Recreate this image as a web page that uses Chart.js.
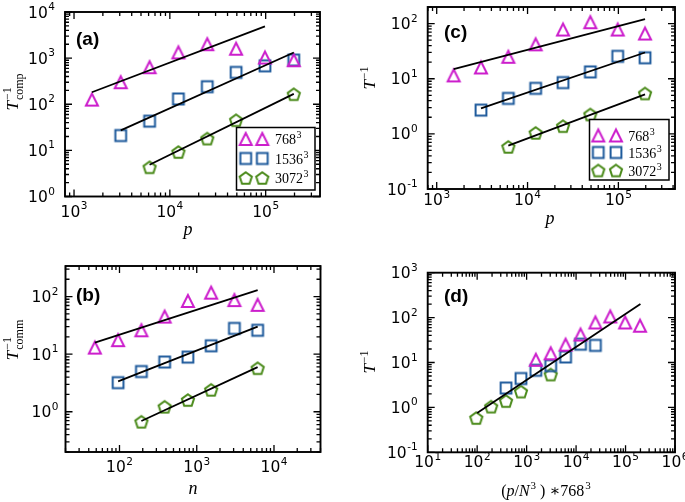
<!DOCTYPE html>
<html lang="en">
<head>
<meta charset="utf-8">
<title>Strong scaling</title>
<script src="https://cdn.jsdelivr.net/npm/chart.js@4.4.0/dist/chart.umd.min.js"></script>
<style>
  body { margin: 0; background: #fff; }
  #wrap { position: relative; width: 685px; height: 502px; overflow: hidden; }
  #wrap canvas { position: absolute; left: 0; top: 0; }
</style>
</head>
<body>
<div id="wrap">
  <canvas id="panelA" width="685" height="502"></canvas>
  <canvas id="panelB" width="685" height="502"></canvas>
  <canvas id="panelC" width="685" height="502"></canvas>
  <canvas id="panelD" width="685" height="502"></canvas>
</div>
<script>
// grids
const grids = [768, 1536, 3072];
const gridLabels = ['768', '1536', '3072'];

// processor counts p per grid
const procs768 = [1536, 3072, 6144, 12288, 24576, 49152, 98304, 196608];
const procs1536 = [3072, 6144, 12288, 24576, 49152, 98304, 196608];
const procs3072 = [6144, 12288, 24576, 49152, 196608];

// n per grid (panel b)
const n768 = [48, 96, 192, 384, 768, 1536, 3072, 6144];
const n1536 = [96, 192, 384, 768, 1536, 3072, 6144];
const n3072 = [192, 384, 768, 1536, 6144];

// (a) inverse computation time
const comp768 = [126, 300, 635, 1330, 2000, 1600, 1030, 900];
const comp1536 = [21, 43, 130, 240, 490, 680, 910];
const comp3072 = [4.3, 9.2, 18, 45, 165];

// (b) inverse communication time
const comm768 = [13, 17.5, 26, 45, 84, 117, 87, 72];
const comm1536 = [3.2, 5.0, 7.3, 8.9, 14, 28, 26];
const comm3072 = [0.67, 1.22, 1.6, 2.4, 5.7];

// (c) inverse total time (also used in d)
const total768 = [11.5, 16, 25, 42, 78, 106, 78, 66];
const total1536 = [2.7, 4.4, 6.7, 8.5, 13.3, 25.5, 24];
const total3072 = [0.58, 1.04, 1.38, 2.25, 5.4];

// fitted power laws, end points
const fitA768 = { x: [1536, 98304], y: [182, 4860] };
const fitA1536 = { x: [3072, 196608], y: [27.2, 1327] };
const fitA3072 = { x: [6144, 196608], y: [4.87, 168] };
const fitB768 = { x: [48, 6144], y: [15.9, 130] };
const fitB1536 = { x: [96, 6144], y: [3.38, 30] };
const fitB3072 = { x: [192, 6144], y: [0.69, 5.97] };
const fitC768 = { x: [1536, 196608], y: [14.9, 120] };
const fitC1536 = { x: [3072, 196608], y: [2.9, 29.9] };
const fitC3072 = { x: [6144, 196608], y: [0.61, 5.2] };
const fitD = { x: [100, 200000], y: [0.75, 200] };

const colors = ['#cc1ecc', '#1f5b9c', '#4b8b1b'];

function makeMarker(shape, color) {
    const c = document.createElement('canvas');
    c.width = 18; c.height = 18;
    const g = c.getContext('2d');
    g.strokeStyle = color;
    g.lineWidth = 2;
    g.beginPath();
    if (shape === 'tri') {
        g.moveTo(9, 3); g.lineTo(3, 15); g.lineTo(15, 15);
    } else if (shape === 'sq') {
        g.rect(3.6, 3.6, 10.8, 10.8);
    } else {
        for (let k = 0; k < 5; k++) {
            const a = -Math.PI / 2 + k * 2 * Math.PI / 5;
            const px = 9 + 6.4 * Math.cos(a), py = 9.6 + 6.4 * Math.sin(a);
            if (k === 0) g.moveTo(px, py); else g.lineTo(px, py);
        }
    }
    g.closePath();
    g.stroke();
    return c;
}
const markers = [makeMarker('tri', colors[0]), makeMarker('sq', colors[1]), makeMarker('pent', colors[2])];

function pts(xs, ys) { return xs.map((x, i) => ({ x: x, y: ys[i] })); }
function markerSet(xs, ys, k) {
    return { data: pts(xs, ys), showLine: false, pointStyle: markers[k], pointRadius: 6 };
}
function fitSet(f) {
    return { data: pts(f.x, f.y), showLine: true, borderColor: '#000', borderWidth: 1.8, pointRadius: 0 };
}
// rescaled abscissa for panel d: (p/N^3)*768^3
function rescale(ps, N) { return ps.map(p => p * Math.pow(768 / N, 3)); }

const SERIF = '"Liberation Serif", "DejaVu Serif", serif';
const SANS = '"DejaVu Sans", sans-serif';

// math-ish text runs
function runWidth(ctx, segs, size) {
    let w = 0;
    segs.forEach(s => {
        if (s.t !== undefined) {
            ctx.font = (s.f === 'i' ? 'italic ' : '') + size + 'px ' + SERIF;
            w += ctx.measureText(s.t).width;
        } else {
            ctx.font = Math.round(size * 0.7) + 'px ' + SERIF;
            w += Math.max(s.sup ? ctx.measureText(s.sup).width : 0, s.sub ? ctx.measureText(s.sub).width : 0) + 1;
        }
    });
    return w;
}
function drawRun(ctx, segs, size, cx, baseY) {
    let x = cx - runWidth(ctx, segs, size) / 2;
    ctx.textAlign = 'left';
    ctx.textBaseline = 'alphabetic';
    segs.forEach(s => {
        if (s.t !== undefined) {
            ctx.font = (s.f === 'i' ? 'italic ' : '') + size + 'px ' + SERIF;
            ctx.fillText(s.t, x, baseY);
            x += ctx.measureText(s.t).width;
        } else {
            ctx.font = Math.round(size * 0.7) + 'px ' + SERIF;
            let w = 0;
            if (s.sup) { ctx.fillText(s.sup, x + 1, baseY - size * 0.42); w = ctx.measureText(s.sup).width; }
            if (s.sub) { ctx.fillText(s.sub, x + 1, baseY + size * 0.28); w = Math.max(w, ctx.measureText(s.sub).width); }
            x += w + 1;
        }
    });
}

function drawPow(ctx, exp, x, baseY, align) {
    ctx.textBaseline = 'alphabetic';
    ctx.textAlign = 'left';
    ctx.font = '15.5px ' + SANS;
    const wb = ctx.measureText('10').width;
    ctx.font = '10.5px ' + SANS;
    const we = ctx.measureText(exp).width;
    const total = wb + we + 0.5;
    const left = align === 'center' ? x - total / 2 : x - total;
    ctx.font = '15.5px ' + SANS;
    ctx.fillText('10', left, baseY);
    ctx.font = '10.5px ' + SANS;
    ctx.fillText(exp, left + wb + 0.5, baseY - 7.5);
}

function logTicks(min, max) {
    const out = [];
    for (let k = Math.floor(Math.log10(min)); k <= Math.ceil(Math.log10(max)); k++) {
        for (let m = 1; m <= 9; m++) {
            const v = m * Math.pow(10, k);
            if (v >= min * 0.999 && v <= max * 1.001) out.push({ v: v, major: m === 1, exp: k });
        }
    }
    return out;
}

const decor = {};

const decorPlugin = {
    id: 'decor',
    beforeDraw(chart) {
        if (chart.canvas.id !== 'panelA') return;
        const ctx = chart.ctx;
        ctx.save();
        ctx.fillStyle = '#fff';
        ctx.fillRect(0, 0, chart.width, chart.height);
        ctx.restore();
    },
    afterDraw(chart) {
        const d = decor[chart.canvas.id];
        const ctx = chart.ctx;
        const a = chart.chartArea;
        const xs = chart.scales.x, ys = chart.scales.y;
        ctx.save();
        ctx.strokeStyle = '#000';
        ctx.fillStyle = '#000';
        // ticks, inward on all four sides
        ctx.lineWidth = 1.3;
        logTicks(xs.min, xs.max).forEach(t => {
            const px = xs.getPixelForValue(t.v);
            const len = t.major ? 7 : 4;
            ctx.beginPath();
            ctx.moveTo(px, a.bottom); ctx.lineTo(px, a.bottom - len);
            ctx.moveTo(px, a.top); ctx.lineTo(px, a.top + len);
            ctx.stroke();
            if (t.major) drawPow(ctx, String(t.exp), px, a.bottom + d.xGap, 'center');
        });
        logTicks(ys.min, ys.max).forEach(t => {
            const py = ys.getPixelForValue(t.v);
            const len = t.major ? 7 : 4;
            ctx.beginPath();
            ctx.moveTo(a.left, py); ctx.lineTo(a.left + len, py);
            ctx.moveTo(a.right, py); ctx.lineTo(a.right - len, py);
            ctx.stroke();
            if (t.major) drawPow(ctx, String(t.exp), a.left - d.yGap, py + 5.5, 'right');
        });
        ctx.lineWidth = 1.9;
        ctx.strokeRect(a.left, a.top, a.right - a.left, a.bottom - a.top);

        // panel tag
        ctx.font = 'bold 19px "Liberation Sans", Arial, sans-serif';
        ctx.textAlign = 'left';
        ctx.textBaseline = 'middle';
        ctx.fillText(d.tag, d.tagPos[0], d.tagPos[1]);

        // axis titles
        drawRun(ctx, d.xTitle, d.xSize, d.xPos[0], d.xPos[1]);
        ctx.save();
        ctx.translate(d.yPos[0], d.yPos[1]);
        ctx.rotate(-Math.PI / 2);
        drawRun(ctx, d.yTitle, 17, 0, 5);
        ctx.restore();

        // legend
        if (d.legend) {
            const L = d.legend;
            ctx.fillStyle = '#fff';
            ctx.fillRect(L.box[0], L.box[1], L.box[2] - L.box[0], L.box[3] - L.box[1]);
            ctx.lineWidth = 1.5;
            ctx.strokeRect(L.box[0], L.box[1], L.box[2] - L.box[0], L.box[3] - L.box[1]);
            ctx.fillStyle = '#000';
            gridLabels.forEach((g, k) => {
                const y = L.rows[k];
                L.mx.forEach(mx => ctx.drawImage(markers[k], mx - 9, y - 9));
                ctx.font = '14px ' + SERIF;
                ctx.textAlign = 'left';
                ctx.textBaseline = 'alphabetic';
                ctx.fillText(g, L.tx, y + 5);
                const w = ctx.measureText(g).width;
                ctx.font = '10px ' + SERIF;
                ctx.fillText('3', L.tx + w + 0.5, y - 1);
            });
        }
        ctx.restore();
    }
};

function buildPanel(id, area, xRange, yRange, datasets) {
    new Chart(document.getElementById(id), {
        type: 'scatter',
        data: { datasets: datasets },
        options: {
            responsive: false,
            animation: false,
            events: [],
            layout: { padding: { left: area[0], top: area[1], right: 685 - area[2], bottom: 502 - area[3] } },
            scales: {
                x: { type: 'logarithmic', min: xRange[0], max: xRange[1], display: false },
                y: { type: 'logarithmic', min: yRange[0], max: yRange[1], display: false }
            },
            plugins: { legend: { display: false }, tooltip: { enabled: false } }
        },
        plugins: [decorPlugin]
    });
}

const Tinv = (sub) => [{ t: 'T', f: 'i' }, { sup: '\u22121', sub: sub }];

decor.panelA = {
    tag: '(a)', tagPos: [76, 40], xGap: 20, yGap: 10,
    xTitle: [{ t: 'p', f: 'i' }], xSize: 18, xPos: [188, 235],
    yTitle: Tinv('comp'), yPos: [13, 92],
    legend: { box: [236.5, 127.5, 315, 190], rows: [139, 158.5, 178], mx: [245.7, 262.3], tx: 275 }
};
decor.panelB = {
    tag: '(b)', tagPos: [76, 296], xGap: 20, yGap: 7,
    xTitle: [{ t: 'n', f: 'i' }], xSize: 18, xPos: [193, 494],
    yTitle: Tinv('comm'), yPos: [13, 340]
};
decor.panelC = {
    tag: '(c)', tagPos: [444, 33], xGap: 16, yGap: 10,
    xTitle: [{ t: 'p', f: 'i' }], xSize: 18, xPos: [550, 224],
    yTitle: Tinv(null), yPos: [370, 78],
    legend: { box: [589.5, 119.5, 669, 180], rows: [135.5, 152.5, 170.5], mx: [598.3, 616], tx: 628.3 }
};
decor.panelD = {
    tag: '(d)', tagPos: [444, 297], xGap: 15, yGap: 10,
    xTitle: [{ t: '(', f: 'r' }, { t: 'p', f: 'i' }, { t: '/', f: 'r' }, { t: 'N', f: 'i' }, { sup: '3' },
             { t: ' ) \u2217768', f: 'r' }, { sup: '3' }],
    xSize: 16, xPos: [546, 496],
    yTitle: Tinv(null), yPos: [370, 362]
};

buildPanel('panelA', [65, 12, 320, 196.5], [805, 3.69e5], [1, 1e4], [
    fitSet(fitA768), fitSet(fitA1536), fitSet(fitA3072),
    markerSet(procs768, comp768, 0), markerSet(procs1536, comp1536, 1), markerSet(procs3072, comp3072, 2)
]);
buildPanel('panelB', [65.5, 266, 320.5, 452], [20, 40000], [0.2, 340], [
    fitSet(fitB768), fitSet(fitB1536), fitSet(fitB3072),
    markerSet(n768, comm768, 0), markerSet(n1536, comm1536, 1), markerSet(n3072, comm3072, 2)
]);
buildPanel('panelC', [427.7, 6.5, 675, 189], [796, 4.2e5], [0.1, 200], [
    fitSet(fitC768), fitSet(fitC1536), fitSet(fitC3072),
    markerSet(procs768, total768, 0), markerSet(procs1536, total1536, 1), markerSet(procs3072, total3072, 2)
]);
buildPanel('panelD', [427.7, 272.7, 675, 452.3], [10, 1e6], [0.1, 1000], [
    fitSet(fitD),
    markerSet(rescale(procs768, grids[0]), total768, 0),
    markerSet(rescale(procs1536, grids[1]), total1536, 1),
    markerSet(rescale(procs3072, grids[2]), total3072, 2)
]);
</script>
</body>
</html>
